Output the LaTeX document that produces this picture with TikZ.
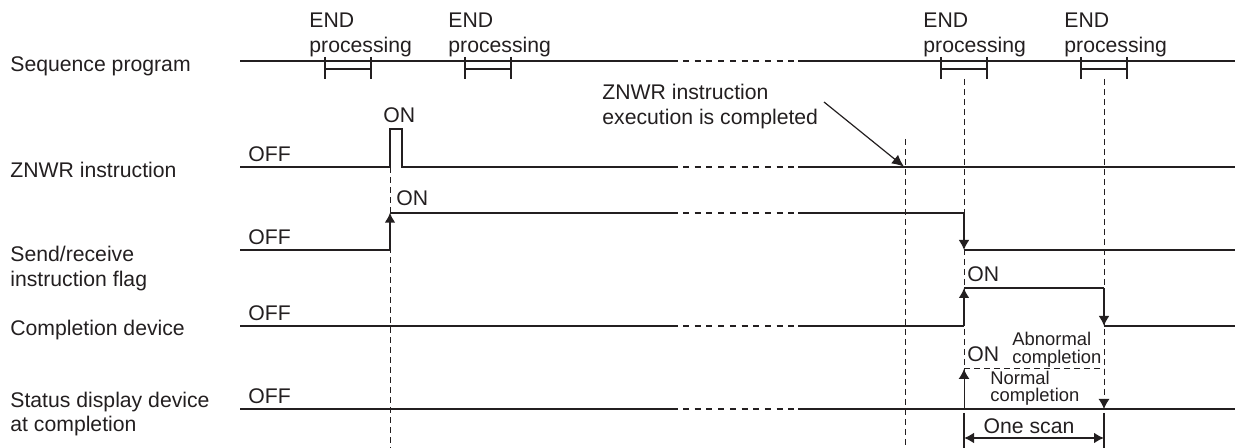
\documentclass[tikz,border=0pt]{standalone}
\usepackage{fontspec}
\setmainfont{Liberation Sans}
\usetikzlibrary{arrows.meta}
\definecolor{ink}{RGB}{35,31,32}

\begin{document}
\begin{tikzpicture}[x=0.5pt, y=-0.5pt, >={Latex[length=5pt,width=5.5pt]},
    color=ink, font=\fontsize{10.6}{12.5}\selectfont,
    sig/.style={line width=1pt},
    gap/.style={line width=1pt, dash pattern=on 3pt off 2.85pt},
    guide/.style={line width=0.5pt, dash pattern=on 3pt off 2pt},
    lbl/.style={anchor=base west, inner sep=0pt, align=left},
    small/.style={lbl, font=\fontsize{9.2}{9}\selectfont}]

    \useasboundingbox (0,0) rectangle (1237,448);

    % signal names (base = last line)
    \node [lbl] (seq) at (10,72) {Sequence program};
    \node [lbl] (znwr) at (10,178) {ZNWR instruction};
    \node [lbl] (flag) at (10,287) {Send/receive\\instruction flag};
    \node [lbl] (cdev) at (10,336) {Completion device};
    \node [lbl] (sdev) at (10,432) {Status display device\\at completion};

    % OFF levels
    \foreach \y [count=\i] in {162,245,321,404}
        \node [lbl] (off\i) at (248,\y) {OFF};

    % END processing
    \foreach \x [count=\i] in {309,448,923,1064}
        \node [lbl] (end\i) at (\x,53) {END\\processing};
    \foreach \a/\b in {325/371,465/511,941/987,1081/1127}
        \draw [sig] (\a,57) -- (\a,79) (\b,57) -- (\b,79) (\a,69) -- (\b,69);

    % omitted time
    \foreach \y in {61,166.7,212.7,326,409}
        \draw [gap] (683,\y) -- (796,\y);

    % timing guides
    \foreach \x/\t/\b in {390/167/448,905/139/448,964/79/409,1104/79/409}
        \draw [guide] (\x,\t) -- (\x,\b);

    % sequence program
    \draw [sig] (240,61) -- (678,61) (798,61) -- (1235,61);

    % ZNWR instruction
    \draw [sig] (240,166.7) -- (390,166.7) -- (390,129) -- (402,129)
        -- (402,166.7) -- (678,166.7) (798,166.7) -- (1235,166.7);
    \node [lbl] (on1) at (383,123) {ON};

    % send/receive instruction flag
    \draw [sig] (240,250) -- (390,250);
    \draw [sig, ->] (390,250) -- (390,212.7);
    \draw [sig] (390,212.7) -- (678,212.7) (798,212.7) -- (964,212.7);
    \draw [sig, ->] (964,212.7) -- (964,250);
    \draw [sig] (964,250) -- (1235,250);
    \node [lbl] (on2) at (396,206) {ON};

    % completion device
    \draw [sig] (240,326) -- (678,326) (798,326) -- (964,326);
    \draw [sig, ->] (964,326) -- (964,288);
    \draw [sig] (964,288) -- (1104,288);
    \draw [sig, ->] (1104,288) -- (1104,326);
    \draw [sig] (1104,326) -- (1235,326);
    \node [lbl] (on3) at (967,282) {ON};

    % status display device
    \draw [sig] (240,409) -- (678,409) (798,409) -- (1235,409);
    \draw [guide, ->] (964,409) -- (964,369);
    \draw [guide] (964,369) -- (1104,369);
    \draw [guide, ->] (1104,369) -- (1104,409);
    \node [lbl] (on4) at (967,362) {ON};
    \node [small] (abn) at (1012,364) {Abnormal\\completion};
    \node [small] (nrm) at (990,402) {Normal\\completion};

    % one scan
    \draw [sig] (964,413) -- (964,448) (1104,413) -- (1104,448);
    \coordinate (scanL) at (964,438);
    \coordinate (scanR) at (1104,438);
    \draw [sig, <->] (scanL) -- (scanR);
    \node [anchor=base, inner sep=0pt] (scan) at (1029,434) {One scan};

    % completion note
    \node [lbl] (note) at (602,125) {ZNWR instruction\\execution is completed};
    \coordinate (tail) at (824,102);
    \coordinate (done) at (904,166.7);
    \draw [line width=0.6pt, -{Latex[length=6pt,width=5.5pt]}] (tail) -- (done);
\end{tikzpicture}
\end{document}
